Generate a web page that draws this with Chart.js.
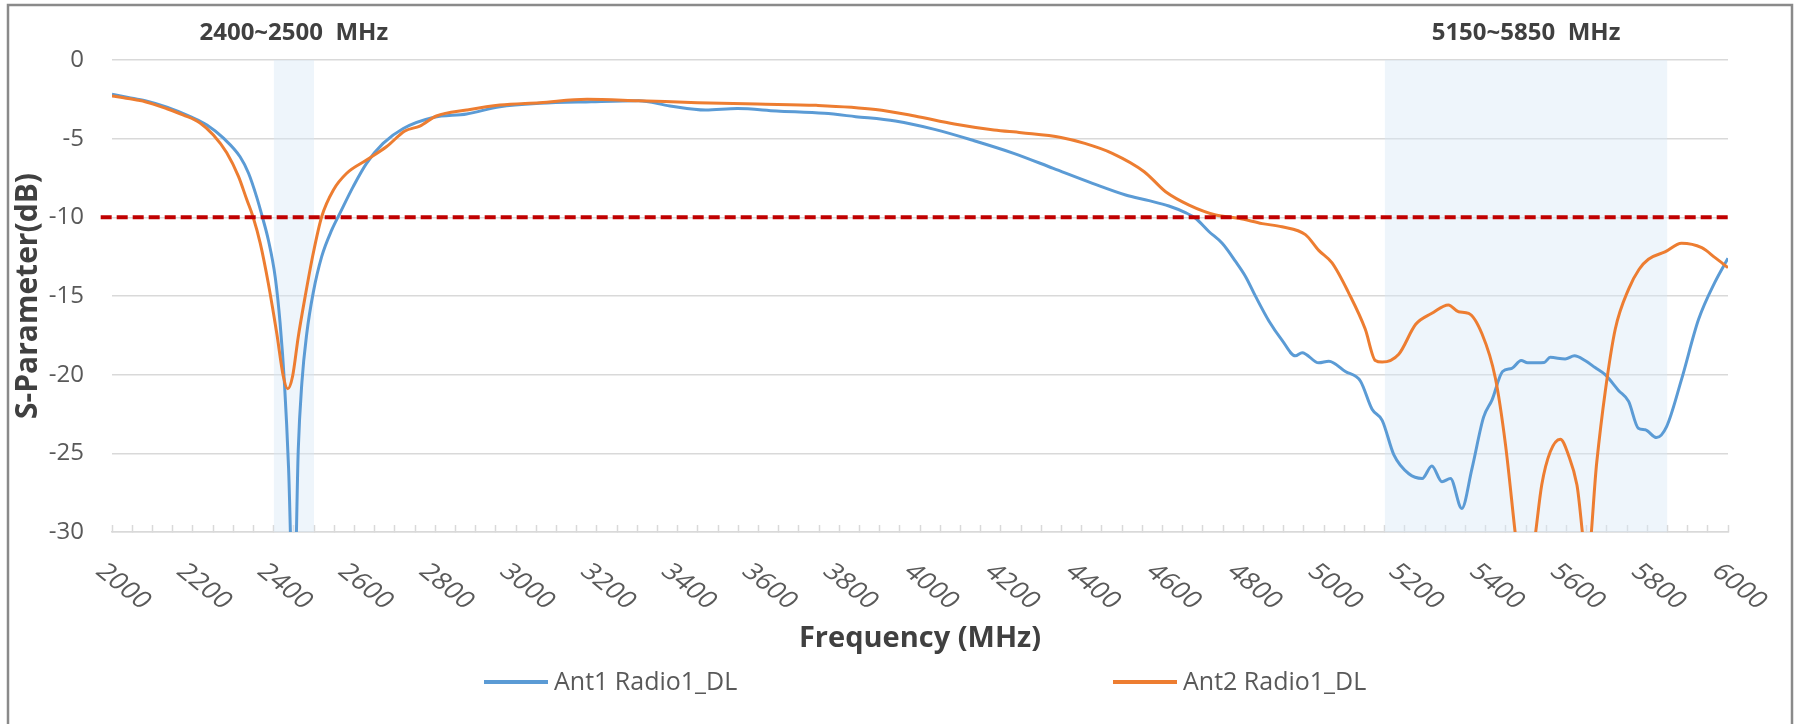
<!DOCTYPE html>
<html>
<head>
<meta charset="utf-8">
<script src="https://cdn.jsdelivr.net/npm/chart.js@4.4.1/dist/chart.umd.min.js"></script>
<style>
html,body{margin:0;padding:0;background:#fff;}
canvas{display:block;}
</style>
</head>
<body>
<canvas id="c" width="1799" height="724"></canvas>
<script>
// ---- data ----
const seriesNames = ['Ant1 Radio1_DL', 'Ant2 Radio1_DL'];

const ant1Freq = [2000,2040,2082,2136,2194,2235,2276,2317,2338,2358,2372,2387,2404,2416,2427,2437,2450,2461,2470,2482,2498,2519,2544,2564,2597,2630,2671,2721,2795,2878,2960,3059,3186,3303,3381,3469,3548,3645,3763,3841,3939,4036,4134,4232,4330,4427,4509,4567,4616,4657,4682,4715,4748,4781,4806,4831,4864,4896,4929,4946,4987,5012,5053,5090,5119,5144,5173,5210,5243,5267,5292,5313,5341,5366,5395,5416,5442,5465,5488,5504,5545,5560,5597,5620,5646,5671,5696,5729,5754,5778,5795,5823,5848,5885,5927,5968,6000];
const ant1Val  = [-2.18,-2.38,-2.59,-3.0,-3.6,-4.13,-4.97,-6.15,-7.2,-8.7,-9.96,-11.44,-13.8,-16.7,-20.6,-25.9,-36,-24.8,-20.5,-17.4,-14.8,-12.5,-10.8,-9.75,-8.05,-6.57,-5.3,-4.35,-3.65,-3.43,-2.97,-2.75,-2.65,-2.59,-2.92,-3.18,-3.09,-3.24,-3.39,-3.6,-3.88,-4.41,-5.13,-5.93,-6.89,-7.84,-8.58,-8.94,-9.28,-9.7,-10.06,-10.9,-11.65,-12.8,-13.77,-15.04,-16.6,-17.8,-18.8,-18.6,-19.25,-19.14,-19.8,-20.4,-22.2,-22.9,-25.1,-26.3,-26.6,-25.8,-26.8,-26.6,-28.5,-26.0,-22.7,-21.6,-19.8,-19.6,-19.1,-19.25,-19.22,-18.9,-19.0,-18.8,-19.1,-19.55,-20.0,-21.0,-21.7,-23.4,-23.5,-24.0,-23.3,-20.3,-16.5,-14.1,-12.6];

const ant2Freq = [2000,2040,2082,2136,2177,2218,2251,2284,2313,2334,2349,2367,2387,2408,2424,2435,2447,2461,2478,2498,2519,2548,2581,2630,2680,2725,2762,2803,2878,2960,3059,3176,3303,3449,3597,3743,3890,3987,4085,4183,4251,4349,4408,4476,4555,4592,4608,4666,4732,4789,4847,4896,4954,4987,5020,5061,5102,5127,5144,5185,5227,5267,5308,5333,5358,5391,5424,5449,5473,5497,5524,5539,5560,5585,5605,5626,5652,5675,5696,5721,5754,5780,5803,5844,5885,5935,5968,6000];
const ant2Val  = [-2.28,-2.45,-2.65,-3.1,-3.5,-4.0,-4.77,-5.9,-7.4,-8.9,-9.96,-11.65,-14.2,-17.4,-20.1,-20.9,-20.1,-17.6,-15.05,-12.3,-9.96,-8.26,-7.2,-6.36,-5.5,-4.51,-4.2,-3.56,-3.18,-2.86,-2.71,-2.5,-2.59,-2.71,-2.8,-2.88,-3.14,-3.56,-4.07,-4.45,-4.62,-4.92,-5.3,-5.93,-7.1,-8.0,-8.37,-9.22,-9.85,-10.06,-10.4,-10.6,-11.1,-12.1,-12.9,-14.8,-17.1,-19.1,-19.2,-18.7,-16.8,-16.1,-15.57,-16.0,-16.1,-17.4,-20.2,-24.4,-30,-35.4,-30,-27,-24.9,-24.1,-25.1,-27,-31.9,-25.6,-21.1,-17.1,-14.56,-13.3,-12.66,-12.2,-11.65,-11.93,-12.56,-13.2];

const bandStart  = [2400, 5150];
const bandEnd    = [2500, 5850];
const bandLabels = ['2400~2500  MHz', '5150~5850  MHz'];

const thresholdFreq = [1972, 6010];
const thresholdVal  = [-10, -10];

const xTickLabels = ['2000','2200','2400','2600','2800','3000','3200','3400','3600','3800','4000','4200','4400','4600','4800','5000','5200','5400','5600','5800','6000'];
const yMin = -30, yMax = 0, yStep = 5;
const xMin = 2000, xMax = 6000, xMinorStep = 50;

// ---- styles ----
const BLUE = '#5B9BD5', ORANGE = '#ED7D31', RED = '#C00000';
const FONT = '"Open Sans", "Noto Sans", sans-serif';

const toXY = (fs, vs) => fs.map((f, i) => ({x: f, y: vs[i]}));

const bandSets = bandStart.map((s, i) => ({
  label: 'band' + i,
  data: [{x: s, y: yMax}, {x: bandEnd[i], y: yMax}],
  borderWidth: 0,
  pointRadius: 0,
  backgroundColor: 'rgba(214,230,245,0.42)',
  fill: {value: yMin},
  order: 5
}));

const decor = {
  id: 'decor',
  beforeDraw(chart) {
    const {ctx} = chart;
    ctx.save();
    ctx.fillStyle = '#ffffff';
    ctx.fillRect(0, 0, chart.width, chart.height);
    ctx.strokeStyle = '#8a8a8a';
    ctx.lineWidth = 2.5;
    ctx.strokeRect(8, 5, 1784, 760);
    ctx.restore();
  },
  afterDraw(chart) {
    const {ctx} = chart;
    const x = chart.scales.x, y = chart.scales.y;
    ctx.save();
    // band labels
    ctx.font = 'bold 24px ' + FONT;
    ctx.fillStyle = '#404040';
    ctx.textAlign = 'center';
    ctx.textBaseline = 'middle';
    bandLabels.forEach((t, i) => {
      const cx = (x.getPixelForValue(bandStart[i]) + x.getPixelForValue(bandEnd[i])) / 2;
      ctx.fillText(t, cx, 33);
    });
    // x tick labels (rotated downward)
    ctx.font = '23px ' + FONT;
    ctx.fillStyle = '#595959';
    ctx.textAlign = 'left';
    ctx.textBaseline = 'middle';
    xTickLabels.forEach(t => {
      const px = x.getPixelForValue(Number(t));
      ctx.save();
      ctx.translate(px - 12, y.bottom + 36);
      ctx.scale(1.25, 1);
      ctx.rotate(Math.PI / 4);
      ctx.fillText(t, 0, 0);
      ctx.restore();
    });
    // legend (series order)
    const items = seriesNames.map(n => chart.data.datasets.find(d => d.label === n));
    const starts = [484, 1113];
    ctx.font = '25px ' + FONT;
    ctx.textAlign = 'left';
    ctx.textBaseline = 'middle';
    items.forEach((d, i) => {
      const lx = starts[i], ly = 682;
      ctx.strokeStyle = d.borderColor;
      ctx.lineWidth = 4;
      ctx.beginPath();
      ctx.moveTo(lx, ly);
      ctx.lineTo(lx + 64, ly);
      ctx.stroke();
      ctx.fillStyle = '#595959';
      ctx.fillText(d.label, lx + 70, ly + 1);
    });
    ctx.restore();
  }
};

new Chart(document.getElementById('c'), {
  type: 'line',
  data: {
    datasets: [
      {
        label: 'threshold',
        data: toXY(thresholdFreq, thresholdVal),
        borderColor: RED,
        borderWidth: 4,
        borderDash: [11, 5],
        pointRadius: 0,
        fill: false,
        order: 1,
        clip: {left: 14, right: 6, top: 5, bottom: 5}
      },
      {
        label: seriesNames[1],
        data: toXY(ant2Freq, ant2Val),
        borderColor: ORANGE,
        backgroundColor: ORANGE,
        borderWidth: 3,
        pointRadius: 0,
        tension: 0.4,
        cubicInterpolationMode: 'monotone',
        fill: false,
        order: 2
      },
      {
        label: seriesNames[0],
        data: toXY(ant1Freq, ant1Val),
        borderColor: BLUE,
        backgroundColor: BLUE,
        borderWidth: 3,
        pointRadius: 0,
        tension: 0.4,
        cubicInterpolationMode: 'monotone',
        fill: false,
        order: 3
      },
      ...bandSets
    ]
  },
  options: {
    responsive: false,
    animation: false,
    devicePixelRatio: 1,
    layout: {padding: {left: 10, right: 71, top: 60, bottom: 68}},
    plugins: {
      legend: {display: false},
      tooltip: {enabled: false}
    },
    scales: {
      x: {
        type: 'linear',
        min: xMin,
        max: xMax,
        afterFit(s) { s.height = 124; },
        ticks: {display: false, stepSize: xMinorStep, autoSkip: false},
        grid: {display: true, drawOnChartArea: false, drawTicks: true, tickLength: -7, tickColor: '#d9d9d9', tickWidth: 1.5},
        border: {display: true, color: '#d9d9d9', width: 1.5},
        title: {display: true, text: 'Frequency (MHz)', color: '#404040', font: {family: FONT, size: 29, weight: 'bold'}, padding: {top: 0, bottom: 0}}
      },
      y: {
        min: yMin,
        max: yMax,
        afterFit(s) { s.width = 102; },
        ticks: {stepSize: yStep, color: '#595959', padding: 28, font: {family: FONT, size: 24}},
        grid: {color: '#d9d9d9', lineWidth: 1.5, drawTicks: false},
        border: {display: false},
        title: {display: true, text: 'S-Parameter(dB)', color: '#404040', font: {family: FONT, size: 30, weight: 'bold'}, padding: {top: 0, bottom: 0}}
      }
    }
  },
  plugins: [decor]
});
</script>
</body>
</html>
